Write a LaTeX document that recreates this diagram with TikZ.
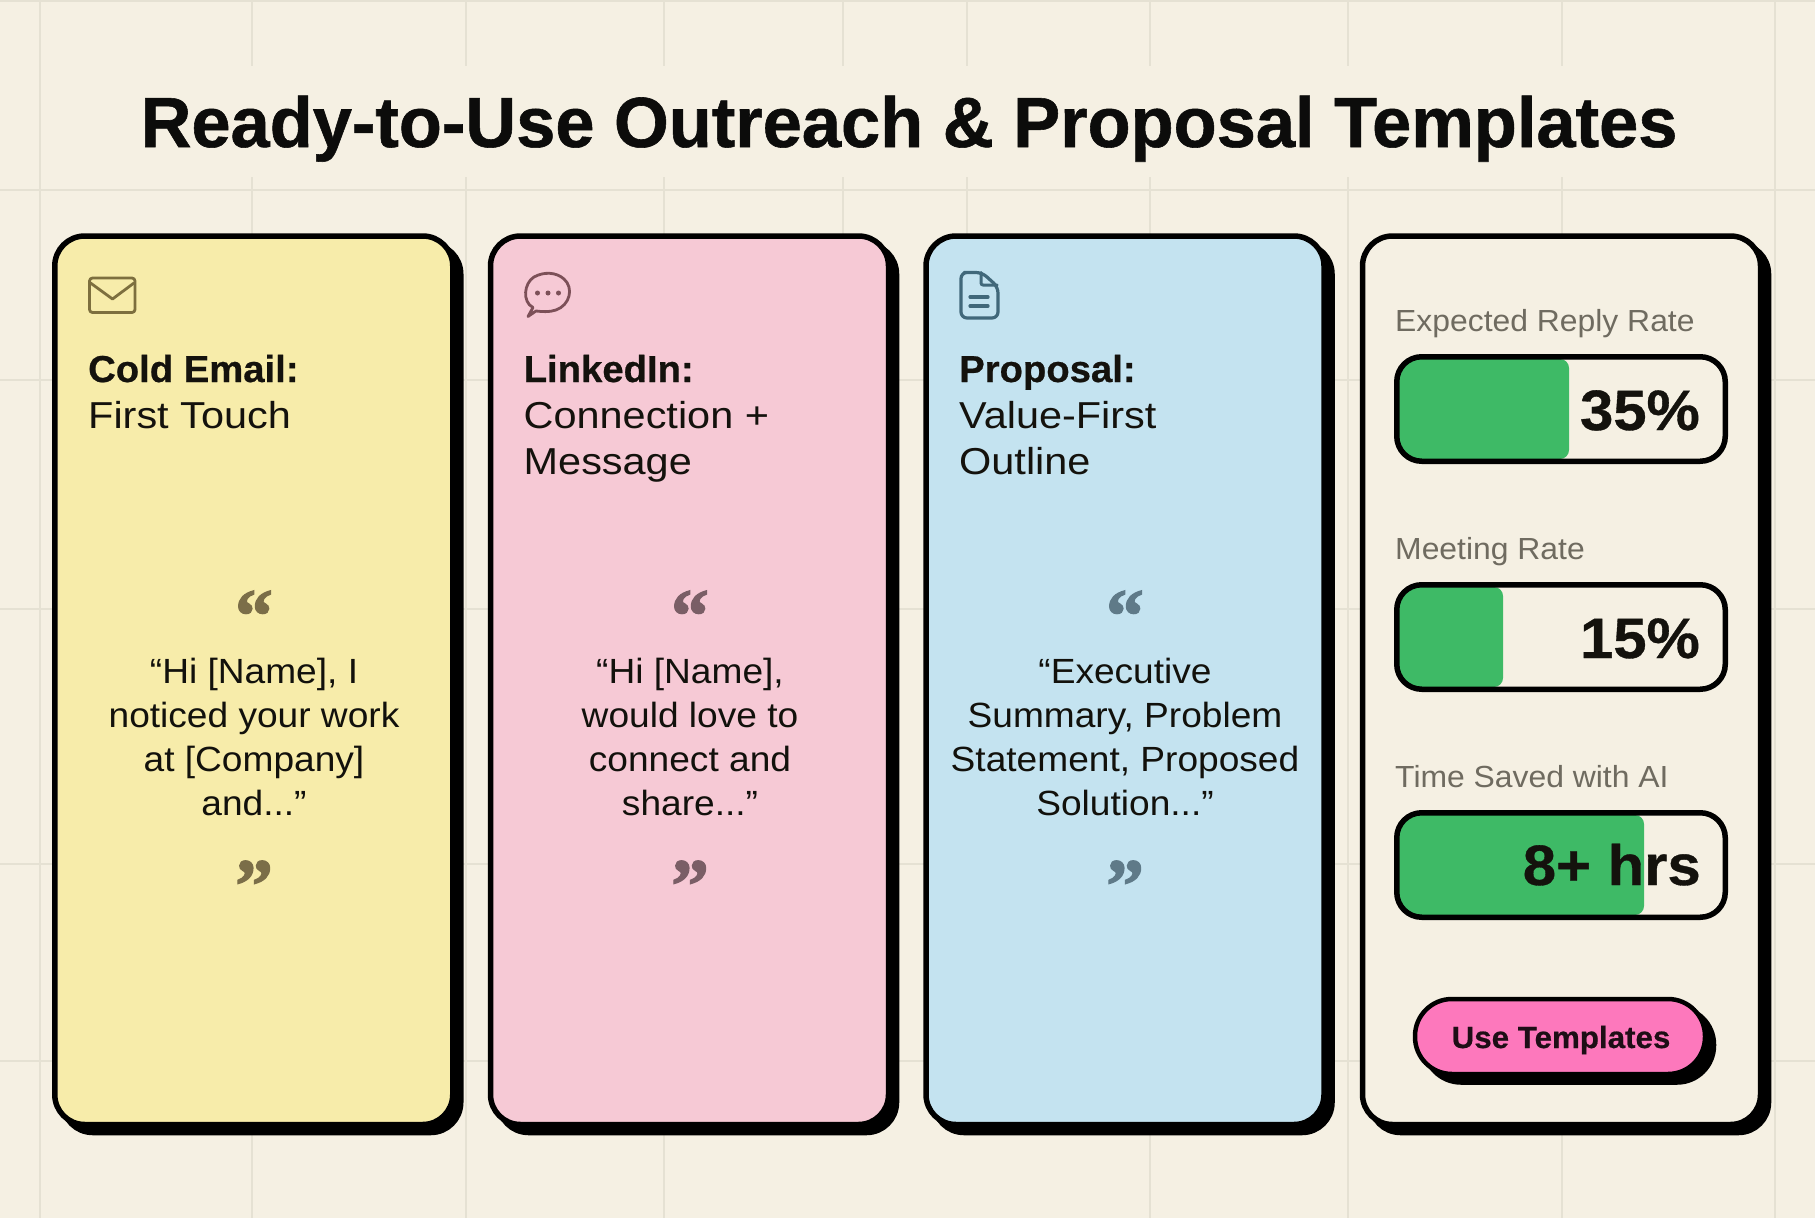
\documentclass[tikz,border=0pt]{standalone}
\usepackage{fontspec}
\setmainfont{Liberation Sans}
\newfontfamily\rg[FakeStretch=1.105]{Liberation Sans}
\newfontfamily\bodyf[FakeStretch=1.06]{Liberation Sans}
\newfontfamily\lblf[FakeStretch=1.045]{Liberation Sans}
\newfontfamily\bd[UprightFont={* Bold},FakeStretch=1.02,FakeBold=0.6]{Liberation Sans}
\newfontfamily\vf[UprightFont={* Bold},FakeStretch=1.05,FakeBold=0.6]{Liberation Sans}
\newfontfamily\ttlfont[UprightFont={* Bold},FakeStretch=0.992,FakeBold=0.8]{Liberation Sans}
\newfontfamily\qfont[UprightFont={* Bold},FakeBold=1.6]{Liberation Serif}
\definecolor{bgc}{HTML}{F5F0E3}
\definecolor{gridc}{HTML}{E5E1D3}
\definecolor{yel}{HTML}{F7ECAA}
\definecolor{pnk}{HTML}{F6C9D5}
\definecolor{blu}{HTML}{C4E3F0}
\definecolor{yelink}{HTML}{7D6F3E}
\definecolor{pnkink}{HTML}{7C5058}
\definecolor{bluink}{HTML}{41687A}
\definecolor{yelq}{HTML}{7B6E48}
\definecolor{pnkq}{HTML}{7A5E66}
\definecolor{bluq}{HTML}{5F7A88}
\definecolor{grn}{HTML}{3EBA66}
\definecolor{hot}{HTML}{FD78BC}
\definecolor{lbl}{HTML}{6F6B60}
\definecolor{ink}{HTML}{14120D}
\tikzset{
  x=1pt,y=-1pt,
  gridline/.style={draw=gridc,line width=1.6pt},
  cardbox/.style={draw=black,line width=5.5pt,rounded corners=30pt,minimum width=398pt,minimum height=888.5pt,inner sep=0pt,outer sep=0pt,anchor=north west},
  cardshadow/.style={cardbox,fill=black},
  barbox/.style={draw=black,line width=5.5pt,rounded corners=25pt,minimum width=328.5pt,minimum height=104.5pt,inner sep=0pt,outer sep=0pt,anchor=north west},
  headbold/.style={anchor=base west,inner sep=0pt,font=\bd\fontsize{37.5}{37.5}\selectfont,text=ink},
  headreg/.style={anchor=base west,inner sep=0pt,font=\rg\fontsize{37.5}{37.5}\selectfont,text=ink},
  bodyline/.style={anchor=base,inner sep=0pt,font=\bodyf\fontsize{35}{35}\selectfont,text=ink!92!black},
  qmark/.style={anchor=center,inner sep=0pt,font=\qfont\fontsize{76}{76}\selectfont},
  metric/.style={anchor=base west,inner sep=0pt,font=\lblf\fontsize{30.5}{30.5}\selectfont,text=lbl},
  valuetext/.style={anchor=base east,inner sep=0pt,font=\vf\fontsize{57}{57}\selectfont,text=ink},
  iconline/.style={line width=2.8pt,line join=round,line cap=round},
}
\newcommand{\cardshape}[3]{% id, x, fill
  \node[cardshadow] (#1s) at (#2+8,244) {};
  \node[cardbox,fill=#3] (#1) at (#2,236) {};
}
\newcommand{\quotetext}[7]{% id, cx, ink, 4 lines
  \node[qmark,text=#3] (#1qa) at (#2,616) {“};
  \node[bodyline] (#1a) at (#2,683) {#4};
  \node[bodyline] (#1b) at (#2,727) {#5};
  \node[bodyline] (#1c) at (#2,771) {#6};
  \node[bodyline] (#1d) at (#2,815) {#7};
  \node[qmark,text=#3] (#1qb) at (#2,886) {”};
}
\newcommand{\metricbar}[5]{% id, top y, green right x, label, label baseline
  \node[metric] (#1l) at (1395,#5) {#4};
  \fill[grn] (1397,#2+5) [rounded corners=22pt] -- (1397,#2+105) [rounded corners=9pt] -- (#3,#2+105) -- (#3,#2+5) [rounded corners=22pt] -- cycle;
  \node[barbox] (#1) at (1396.75,#2+2.75) {};
}
\begin{document}
\begin{tikzpicture}
\useasboundingbox (0,0) rectangle (1815,1218);
\fill[bgc] (0,0) rectangle (1815,1218);
% grid
\foreach \gx in {252,466,664,843,967,1150,1348,1562}{
  \draw[gridline] (\gx,0) -- (\gx,66);
}
\foreach \gx in {843,967}{
  \draw[gridline] (\gx,177) -- (\gx,236);
}
\foreach \gx in {252,466,664,1150,1348,1562}{
  \draw[gridline] (\gx,177) -- (\gx,1218);
}
\draw[gridline,line width=2.2pt] (40,0) -- (40,1218);
\draw[gridline,line width=2.2pt] (1775,0) -- (1775,1218);
\foreach \gy in {1,190,380,609,864,1061}{
  \draw[gridline] (0,\gy) -- (1815,\gy);
}
% title
\node[anchor=base,inner sep=0pt,font=\ttlfont\fontsize{71}{71}\selectfont,text=black!95!bgc] (title) at (909,147) {Ready-to-Use Outreach \& Proposal Templates};
% cards
\cardshape{ca}{54.75}{yel}
\cardshape{cb}{490.5}{pnk}
\cardshape{cc}{926}{blu}
\cardshape{cd}{1362.5}{bgc}
% card 1
\draw[iconline,draw=yelink,rounded corners=3pt] (89.5,278) rectangle (135,312.5);
\draw[iconline,draw=yelink] (90.5,283) -- (112.5,299) -- (134,283);
\node[headbold] (cah) at (88,382) {Cold Email:};
\node[headreg] (cai) at (88,428) {First Touch};
\quotetext{ca}{254}{yelq}{“Hi [Name], I}{noticed your work}{at [Company]}{and...”}
% card 2
\draw[iconline,draw=pnkink] (533,307.5) .. controls (522,302) and (524,283) .. (534,277) .. controls (544,271.5) and (556,272) .. (564,279) .. controls (574,288) and (570,305) .. (556,310) .. controls (549,312.5) and (541,311.5) .. (536,311) -- (528,316.5) -- cycle;
\fill[pnkink] (537.5,293) circle (2.5pt) (548,293) circle (2.5pt) (558.5,293) circle (2.5pt);
\node[headbold] (cbh) at (523.5,382) {LinkedIn:};
\node[headreg] (cbi) at (523.5,428) {Connection +};
\node[headreg] (cbj) at (523.5,474) {Message};
\quotetext{cb}{690}{pnkq}{“Hi [Name],}{would love to}{connect and}{share...”}
% card 3
\draw[line width=3.2pt,line join=round,line cap=round,draw=bluink,rounded corners=6pt] (970,272.5) -- (982,272.5) -- (998,287) -- (998,318) -- (961,318) -- (961,272.5) -- cycle;
\draw[line width=3pt,line join=round,line cap=round,draw=bluink,rounded corners=2pt] (981,272.5) -- (981,285) -- (997,285);
\draw[line width=3.2pt,line cap=round,draw=bluink] (970,297) -- (988,297) (970,306) -- (988,306);
\node[headbold] (cch) at (959,382) {Proposal:};
\node[headreg] (cci) at (959,428) {Value-First};
\node[headreg] (ccj) at (959,474) {Outline};
\quotetext{cc}{1125}{bluq}{“Executive}{Summary, Problem}{Statement, Proposed}{Solution...”}
% card 4
\metricbar{ma}{354}{1569}{Expected Reply Rate}{331}
\node[valuetext] (mav) at (1700,430) {35\%};
\metricbar{mb}{582}{1503}{Meeting Rate}{559}
\node[valuetext] (mbv) at (1700,658) {15\%};
\metricbar{mc}{810}{1644}{Time Saved with AI}{787}
\node[valuetext] (mcv) at (1701,885) {8+ hrs};
\node[draw=black,fill=black,line width=4.5pt,rounded corners=37pt,minimum width=290pt,minimum height=75pt,inner sep=0pt,outer sep=0pt] (btns) at (1569,1045) {};
\node[draw=black,fill=hot,line width=4.5pt,rounded corners=37pt,minimum width=290pt,minimum height=75pt,inner sep=0pt,outer sep=0pt] (btn) at (1560,1036.5) {};
\node[anchor=base,inner sep=0pt,font=\bd\fontsize{30.7}{30.7}\selectfont,text=hot!12!black] (btnt) at (1561,1048) {Use Templates};
\end{tikzpicture}
\end{document}
